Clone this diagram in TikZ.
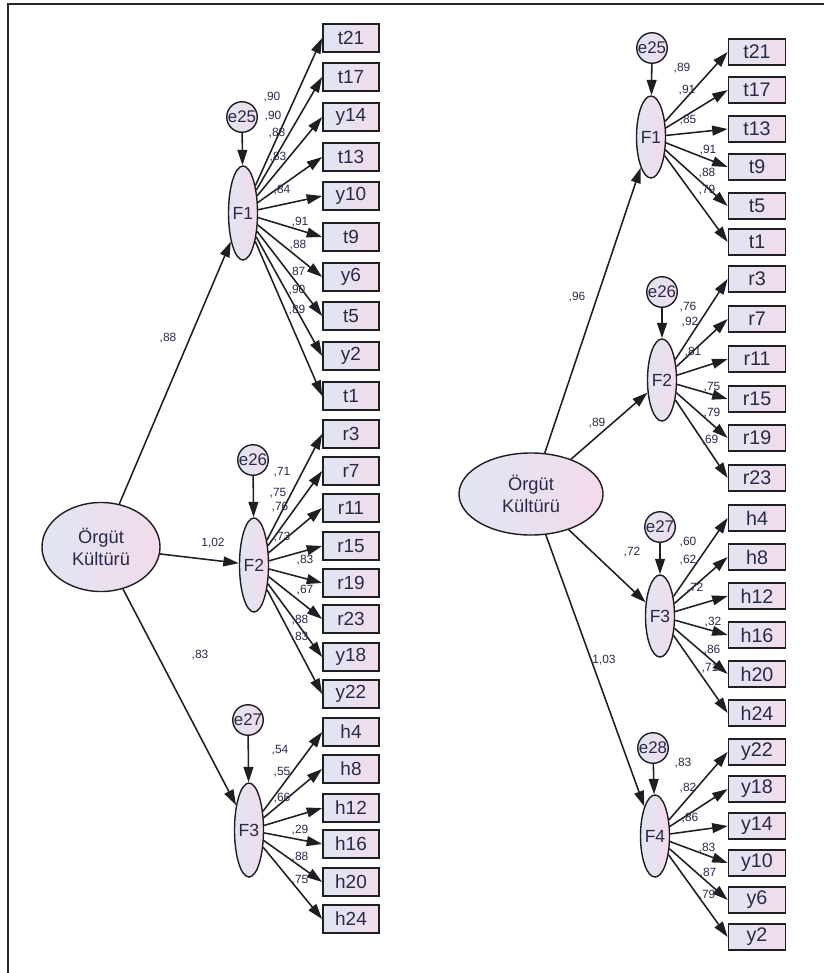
\documentclass[tikz,border=0pt]{standalone}
\usepackage{fontspec}
\setmainfont{Liberation Sans}
\usetikzlibrary{arrows.meta, shapes.geometric}

\definecolor{amosL}{RGB}{224,229,243}
\definecolor{amosR}{RGB}{243,219,235}
\definecolor{ink}{RGB}{30,30,35}
\definecolor{txt}{RGB}{40,42,72}

\begin{document}
\begin{tikzpicture}[
    x=0.025cm, y=-0.025cm,
    obs/.style={
        rectangle, draw=ink, line width=1.2pt, left color=amosL, right color=amosR,
        minimum width=1.4cm, minimum height=0.7cm, inner sep=0pt,
        text=txt, font=\fontsize{13.5}{15}\selectfont
    },
    obsb/.style={obs, minimum width=1.425cm, minimum height=0.66cm, font=\fontsize{14}{15}\selectfont},
    lat/.style={
        ellipse, draw=ink, line width=1pt, left color=amosL, right color=amosR,
        minimum width=0.65cm, minimum height=2.35cm, inner sep=0pt,
        text=txt, font=\fontsize{12.5}{14}\selectfont
    },
    latb/.style={lat, minimum height=2.05cm},
    err/.style={
        circle, draw=ink, line width=1pt, left color=amosL, right color=amosR,
        minimum size=0.75cm, inner sep=0pt, text=txt, font=\fontsize{12}{14}\selectfont
    },
    gen/.style={
        ellipse, draw=ink, line width=1pt, left color=amosL, right color=amosR,
        inner sep=0pt, align=center, text=txt, font=\fontsize{13}{16}\selectfont
    },
    reg/.style={draw=ink, line width=1.1pt, -{Triangle[length=11pt, width=7pt]}},
    lbl/.style={inner sep=0pt, text=txt, font=\fontsize{8.5}{9}\selectfont},
    frame/.style={draw=gray!30!black, line width=1.2pt}
]
\useasboundingbox (0,0) rectangle (824,973);
\draw[frame] (8,973) -- (8,4) -- (824,4);

% left model
\node[gen, minimum width=2.95cm, minimum height=2.225cm] (AOK) at (101,547) {Örgüt\\Kültürü};
\node[lat] (AF1) at (243,213) {F1};
\node[lat] (AF2) at (254,565) {F2};
\node[lat] (AF3) at (249,830) {F3};
\node[err] (Ae25) at (242,117) {e25};
\node[err] (Ae26) at (253,460) {e26};
\node[err] (Ae27) at (248,720) {e27};

\node[obs] (At21) at (351,38)  {t21};
\node[obs] (At17) at (351,77)  {t17};
\node[obs] (Ay14) at (351,117) {y14};
\node[obs] (At13) at (351,157) {t13};
\node[obs] (Ay10) at (351,196) {y10};
\node[obs] (At9)  at (351,237) {t9};
\node[obs] (Ay6)  at (351,277) {y6};
\node[obs] (At5)  at (351,316) {t5};
\node[obs] (Ay2)  at (351,356) {y2};
\node[obs] (At1)  at (351,396) {t1};
\node[obs] (Ar3)  at (351,434) {r3};
\node[obs] (Ar7)  at (351,471) {r7};
\node[obs] (Ar11) at (351,508) {r11};
\node[obs] (Ar15) at (351,546) {r15};
\node[obs] (Ar19) at (351,583) {r19};
\node[obs] (Ar23) at (351,619) {r23};
\node[obs] (Ay18) at (351,657) {y18};
\node[obs] (Ay22) at (351,694) {y22};
\node[obs] (Ah4)  at (351,732) {h4};
\node[obs] (Ah8)  at (351,769) {h8};
\node[obs] (Ah12) at (351,808) {h12};
\node[obs] (Ah16) at (351,844) {h16};
\node[obs] (Ah20) at (351,882) {h20};
\node[obs] (Ah24) at (351,919) {h24};

\draw[reg] (AOK) -- (AF1);
\draw[reg] (AOK) -- (AF2);
\draw[reg] (AOK) -- (AF3);
\draw[reg] (Ae25) -- (AF1);
\draw[reg] (Ae26) -- (AF2);
\draw[reg] (Ae27) -- (AF3);
\node[lbl] (lAF1) at (168,338) {,88};
\node[lbl] (lAF2) at (213,543) {1,02};
\node[lbl] (lAF3) at (200,655) {,83};

\draw[reg] (AF1) -- (At21.west);
\draw[reg] (AF1) -- (At17.west);
\draw[reg] (AF1) -- (Ay14.west);
\draw[reg] (AF1) -- (At13.west);
\draw[reg] (AF1) -- (Ay10.west);
\draw[reg] (AF1) -- (At9.west);
\draw[reg] (AF1) -- (Ay6.west);
\draw[reg] (AF1) -- (At5.west);
\draw[reg] (AF1) -- (Ay2.west);
\draw[reg] (AF1) -- (At1.west);
\node[lbl] (lAt21) at (272,97)  {,90};
\node[lbl] (lAt17) at (273,116) {,90};
\node[lbl] (lAy14) at (277,133) {,88};
\node[lbl] (lAt13) at (278,157) {,83};
\node[lbl] (lAy10) at (282,190) {,84};
\node[lbl] (lAt9)  at (300,222) {,91};
\node[lbl] (lAy6)  at (298,245) {,88};
\node[lbl] (lAt5)  at (297,272) {,87};
\node[lbl] (lAy2)  at (297,290) {,90};
\node[lbl] (lAt1)  at (297,310) {,89};

\draw[reg] (AF2) -- (Ar3.west);
\draw[reg] (AF2) -- (Ar7.west);
\draw[reg] (AF2) -- (Ar11.west);
\draw[reg] (AF2) -- (Ar15.west);
\draw[reg] (AF2) -- (Ar19.west);
\draw[reg] (AF2) -- (Ar23.west);
\draw[reg] (AF2) -- (Ay18.west);
\draw[reg] (AF2) -- (Ay22.west);
\node[lbl] (lAr3)  at (282,472) {,71};
\node[lbl] (lAr7)  at (278,493) {,75};
\node[lbl] (lAr11) at (280,507) {,76};
\node[lbl] (lAr15) at (282,537) {,73};
\node[lbl] (lAr19) at (305,560) {,83};
\node[lbl] (lAr23) at (305,590) {,67};
\node[lbl] (lAy18) at (300,620) {,88};
\node[lbl] (lAy22) at (300,637) {,83};

\draw[reg] (AF3) -- (Ah4.west);
\draw[reg] (AF3) -- (Ah8.west);
\draw[reg] (AF3) -- (Ah12.west);
\draw[reg] (AF3) -- (Ah16.west);
\draw[reg] (AF3) -- (Ah20.west);
\draw[reg] (AF3) -- (Ah24.west);
\node[lbl] (lAh4)  at (280,750) {,54};
\node[lbl] (lAh8)  at (282,772) {,55};
\node[lbl] (lAh12) at (282,798) {,66};
\node[lbl] (lAh16) at (300,830) {,29};
\node[lbl] (lAh20) at (300,857) {,88};
\node[lbl] (lAh24) at (300,880) {,75};

% right model
\node[gen, minimum width=3.6cm, minimum height=2.05cm] (BOK) at (531,494) {Örgüt\\Kültürü};
\node[latb] (BF1) at (651,137) {F1};
\node[latb] (BF2) at (662,380) {F2};
\node[latb] (BF3) at (660,616) {F3};
\node[latb] (BF4) at (655,836) {F4};
\node[err] (Be25) at (652,48)  {e25};
\node[err] (Be26) at (662,292) {e26};
\node[err] (Be27) at (660,527) {e27};
\node[err] (Be28) at (653,748) {e28};

\node[obsb] (Bt21) at (757,52)  {t21};
\node[obsb] (Bt17) at (757,90)  {t17};
\node[obsb] (Bt13) at (757,129) {t13};
\node[obsb] (Bt9)  at (757,167) {t9};
\node[obsb] (Bt5)  at (757,206) {t5};
\node[obsb] (Bt1)  at (757,242) {t1};
\node[obsb] (Br3)  at (757,279) {r3};
\node[obsb] (Br7)  at (757,319) {r7};
\node[obsb] (Br11) at (757,359) {r11};
\node[obsb] (Br15) at (757,399) {r15};
\node[obsb] (Br19) at (757,438) {r19};
\node[obsb] (Br23) at (757,478) {r23};
\node[obsb] (Bh4)  at (757,518) {h4};
\node[obsb] (Bh8)  at (757,557) {h8};
\node[obsb] (Bh12) at (757,596) {h12};
\node[obsb] (Bh16) at (757,635) {h16};
\node[obsb] (Bh20) at (757,674) {h20};
\node[obsb] (Bh24) at (757,713) {h24};
\node[obsb] (By22) at (757,752) {y22};
\node[obsb] (By18) at (757,789) {y18};
\node[obsb] (By14) at (757,826) {y14};
\node[obsb] (By10) at (757,863) {y10};
\node[obsb] (By6)  at (757,900) {y6};
\node[obsb] (By2)  at (757,937) {y2};

\draw[reg] (BOK) -- (BF1);
\draw[reg] (BOK) -- (BF2);
\draw[reg] (BOK) -- (BF3);
\draw[reg] (BOK) -- (BF4);
\draw[reg] (Be25) -- (BF1);
\draw[reg] (Be26) -- (BF2);
\draw[reg] (Be27) -- (BF3);
\draw[reg] (Be28) -- (BF4);
\node[lbl] (lBF1) at (577,297) {,96};
\node[lbl] (lBF2) at (597,423) {,89};
\node[lbl] (lBF3) at (632,552) {,72};
\node[lbl] (lBF4) at (604,660) {1,03};

\draw[reg] (BF1) -- (Bt21.west);
\draw[reg] (BF1) -- (Bt17.west);
\draw[reg] (BF1) -- (Bt13.west);
\draw[reg] (BF1) -- (Bt9.west);
\draw[reg] (BF1) -- (Bt5.west);
\draw[reg] (BF1) -- (Bt1.west);
\node[lbl] (lBt21) at (682,68)  {,89};
\node[lbl] (lBt17) at (687,90)  {,91};
\node[lbl] (lBt13) at (688,120) {,85};
\node[lbl] (lBt9)  at (708,150) {,91};
\node[lbl] (lBt5)  at (707,173) {,88};
\node[lbl] (lBt1)  at (707,190) {,79};

\draw[reg] (BF2) -- (Br3.west);
\draw[reg] (BF2) -- (Br7.west);
\draw[reg] (BF2) -- (Br11.west);
\draw[reg] (BF2) -- (Br15.west);
\draw[reg] (BF2) -- (Br19.west);
\draw[reg] (BF2) -- (Br23.west);
\node[lbl] (lBr3)  at (688,307) {,76};
\node[lbl] (lBr7)  at (690,322) {,92};
\node[lbl] (lBr11) at (693,352) {,81};
\node[lbl] (lBr15) at (712,387) {,75};
\node[lbl] (lBr19) at (712,413) {,79};
\node[lbl] (lBr23) at (710,440) {,69};

\draw[reg] (BF3) -- (Bh4.west);
\draw[reg] (BF3) -- (Bh8.west);
\draw[reg] (BF3) -- (Bh12.west);
\draw[reg] (BF3) -- (Bh16.west);
\draw[reg] (BF3) -- (Bh20.west);
\draw[reg] (BF3) -- (Bh24.west);
\node[lbl] (lBh4)  at (688,542) {,60};
\node[lbl] (lBh8)  at (688,560) {,62};
\node[lbl] (lBh12) at (695,588) {,72};
\node[lbl] (lBh16) at (713,622) {,32};
\node[lbl] (lBh20) at (712,650) {,86};
\node[lbl] (lBh24) at (710,668) {,71};

\draw[reg] (BF4) -- (By22.west);
\draw[reg] (BF4) -- (By18.west);
\draw[reg] (BF4) -- (By14.west);
\draw[reg] (BF4) -- (By10.west);
\draw[reg] (BF4) -- (By6.west);
\draw[reg] (BF4) -- (By2.west);
\node[lbl] (lBy22) at (683,763) {,83};
\node[lbl] (lBy18) at (688,788) {,82};
\node[lbl] (lBy14) at (690,818) {,86};
\node[lbl] (lBy10) at (707,848) {,83};
\node[lbl] (lBy6)  at (708,873) {,87};
\node[lbl] (lBy2)  at (707,895) {,79};

\end{tikzpicture}
\end{document}
